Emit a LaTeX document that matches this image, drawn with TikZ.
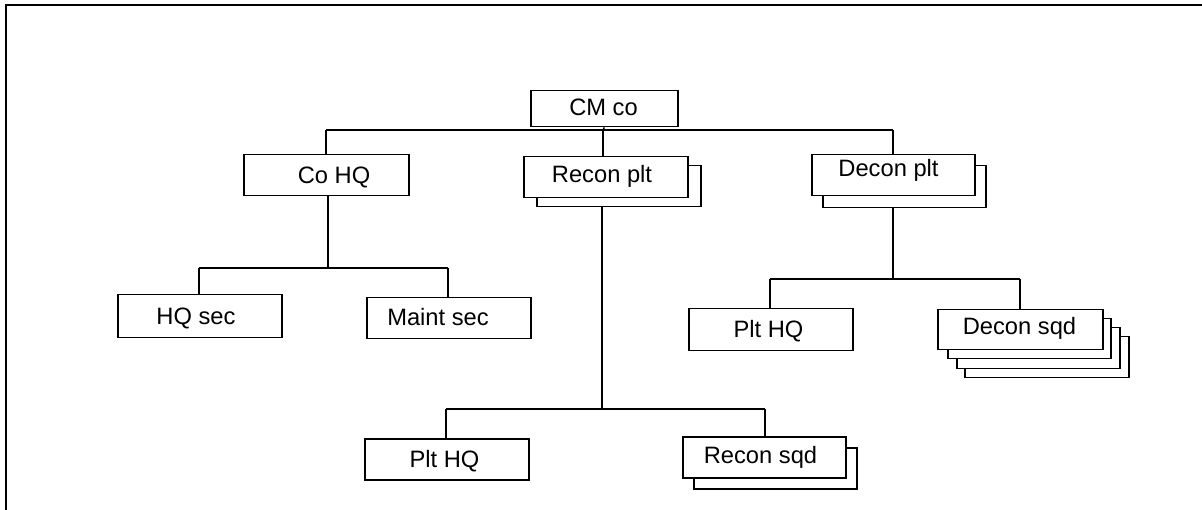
\documentclass[tikz,border=0pt]{standalone}
\usepackage{fontspec}
\setmainfont{Liberation Sans}
\tikzset{
  box/.style={draw=black, fill=white, line width=1.5pt, inner sep=0pt, anchor=north west},
  lbl/.style={inner sep=0pt, anchor=base, font=\fontsize{23.7}{28}\selectfont},
  conn/.style={draw=black, line width=1.5pt},
  frame/.style={draw=black, line width=2.2pt}
}
\newcommand{\bx}[5]{% name, x1, y1, x2, y2
  \node[box, minimum width=#4pt-#2pt, minimum height=#5pt-#3pt] (#1) at (#2,#3) {};}
\begin{document}
\begin{tikzpicture}[x=1pt,y=-1pt]
\useasboundingbox (0,0) rectangle (1202,510);
% frame
\coordinate (fr1) at (6,510);
\coordinate (fr2) at (6,5);
\coordinate (fr3) at (1202,5);
\draw[frame] (fr1) -- (fr2) -- (fr3);

% boxes
\bx{cmco}{530}{90}{677}{126}
\bx{cohq}{243}{154}{408}{195}
\bx{reconpltB}{536}{165}{700}{206}
\bx{reconplt}{523}{156}{687}{197}
\bx{deconpltB}{822}{165}{985}{207}
\bx{deconplt}{811}{154}{974}{195}
\bx{hqsec}{117}{294}{281}{337}
\bx{maintsec}{366}{297}{530}{338}
\bx{plthqR}{688}{308}{852}{350}
\bx{deconsqdD}{964}{336}{1128}{377}
\bx{deconsqdC}{956}{327}{1119}{368}
\bx{deconsqdB}{947}{318}{1110}{358}
\bx{deconsqd}{937}{309}{1102}{349}
\bx{plthqB}{364}{438}{528}{479}
\bx{reconsqdB}{693}{447}{856}{488}
\bx{reconsqd}{682}{436}{845}{477}

% labels (baseline positions)
\node[lbl] (t1) at (603.5,116) {CM co};
\node[lbl] (t2) at (334,184) {Co HQ};
\node[lbl] (t3) at (602,182.5) {Recon plt};
\node[lbl] (t4) at (888.5,176.5) {Decon plt};
\node[lbl] (t5) at (196,325) {HQ sec};
\node[lbl] (t6) at (438,326) {Maint sec};
\node[lbl] (t7) at (768.5,337.5) {Plt HQ};
\node[lbl] (t8) at (1019.5,334.5) {Decon sqd};
\node[lbl] (t9) at (444.5,467) {Plt HQ};
\node[lbl] (t10) at (760.5,463) {Recon sqd};

% junctions
\coordinate (j0) at (603,130);
\coordinate (j0L) at (326,130);
\coordinate (j0R) at (893,130);
\coordinate (j1) at (328,268);
\coordinate (j1L) at (199,268);
\coordinate (j1R) at (448,268);
\coordinate (j2) at (602,409);
\coordinate (j2L) at (446,409);
\coordinate (j2R) at (765,409);
\coordinate (j3) at (893,279);
\coordinate (j3L) at (770,279);
\coordinate (j3R) at (1020,279);

% connectors
\draw[conn] (cmco.south) -- (j0);
\draw[conn] (j0L) -- (j0R);
\draw[conn] (j0L) -- (j0L |- cohq.north);
\draw[conn] (j0) -- (j0 |- reconplt.north);
\draw[conn] (j0R) -- (j0R |- deconplt.north);

\draw[conn] (j1 |- cohq.south) -- (j1);
\draw[conn] (j1L) -- (j1R);
\draw[conn] (j1L) -- (j1L |- hqsec.north);
\draw[conn] (j1R) -- (j1R |- maintsec.north);

\draw[conn] (j2 |- reconpltB.south) -- (j2);
\draw[conn] (j2L) -- (j2R);
\draw[conn] (j2L) -- (j2L |- plthqB.north);
\draw[conn] (j2R) -- (j2R |- reconsqd.north);

\draw[conn] (j3 |- deconpltB.south) -- (j3);
\draw[conn] (j3L) -- (j3R);
\draw[conn] (j3L) -- (j3L |- plthqR.north);
\draw[conn] (j3R) -- (j3R |- deconsqd.north);
\end{tikzpicture}
\end{document}
